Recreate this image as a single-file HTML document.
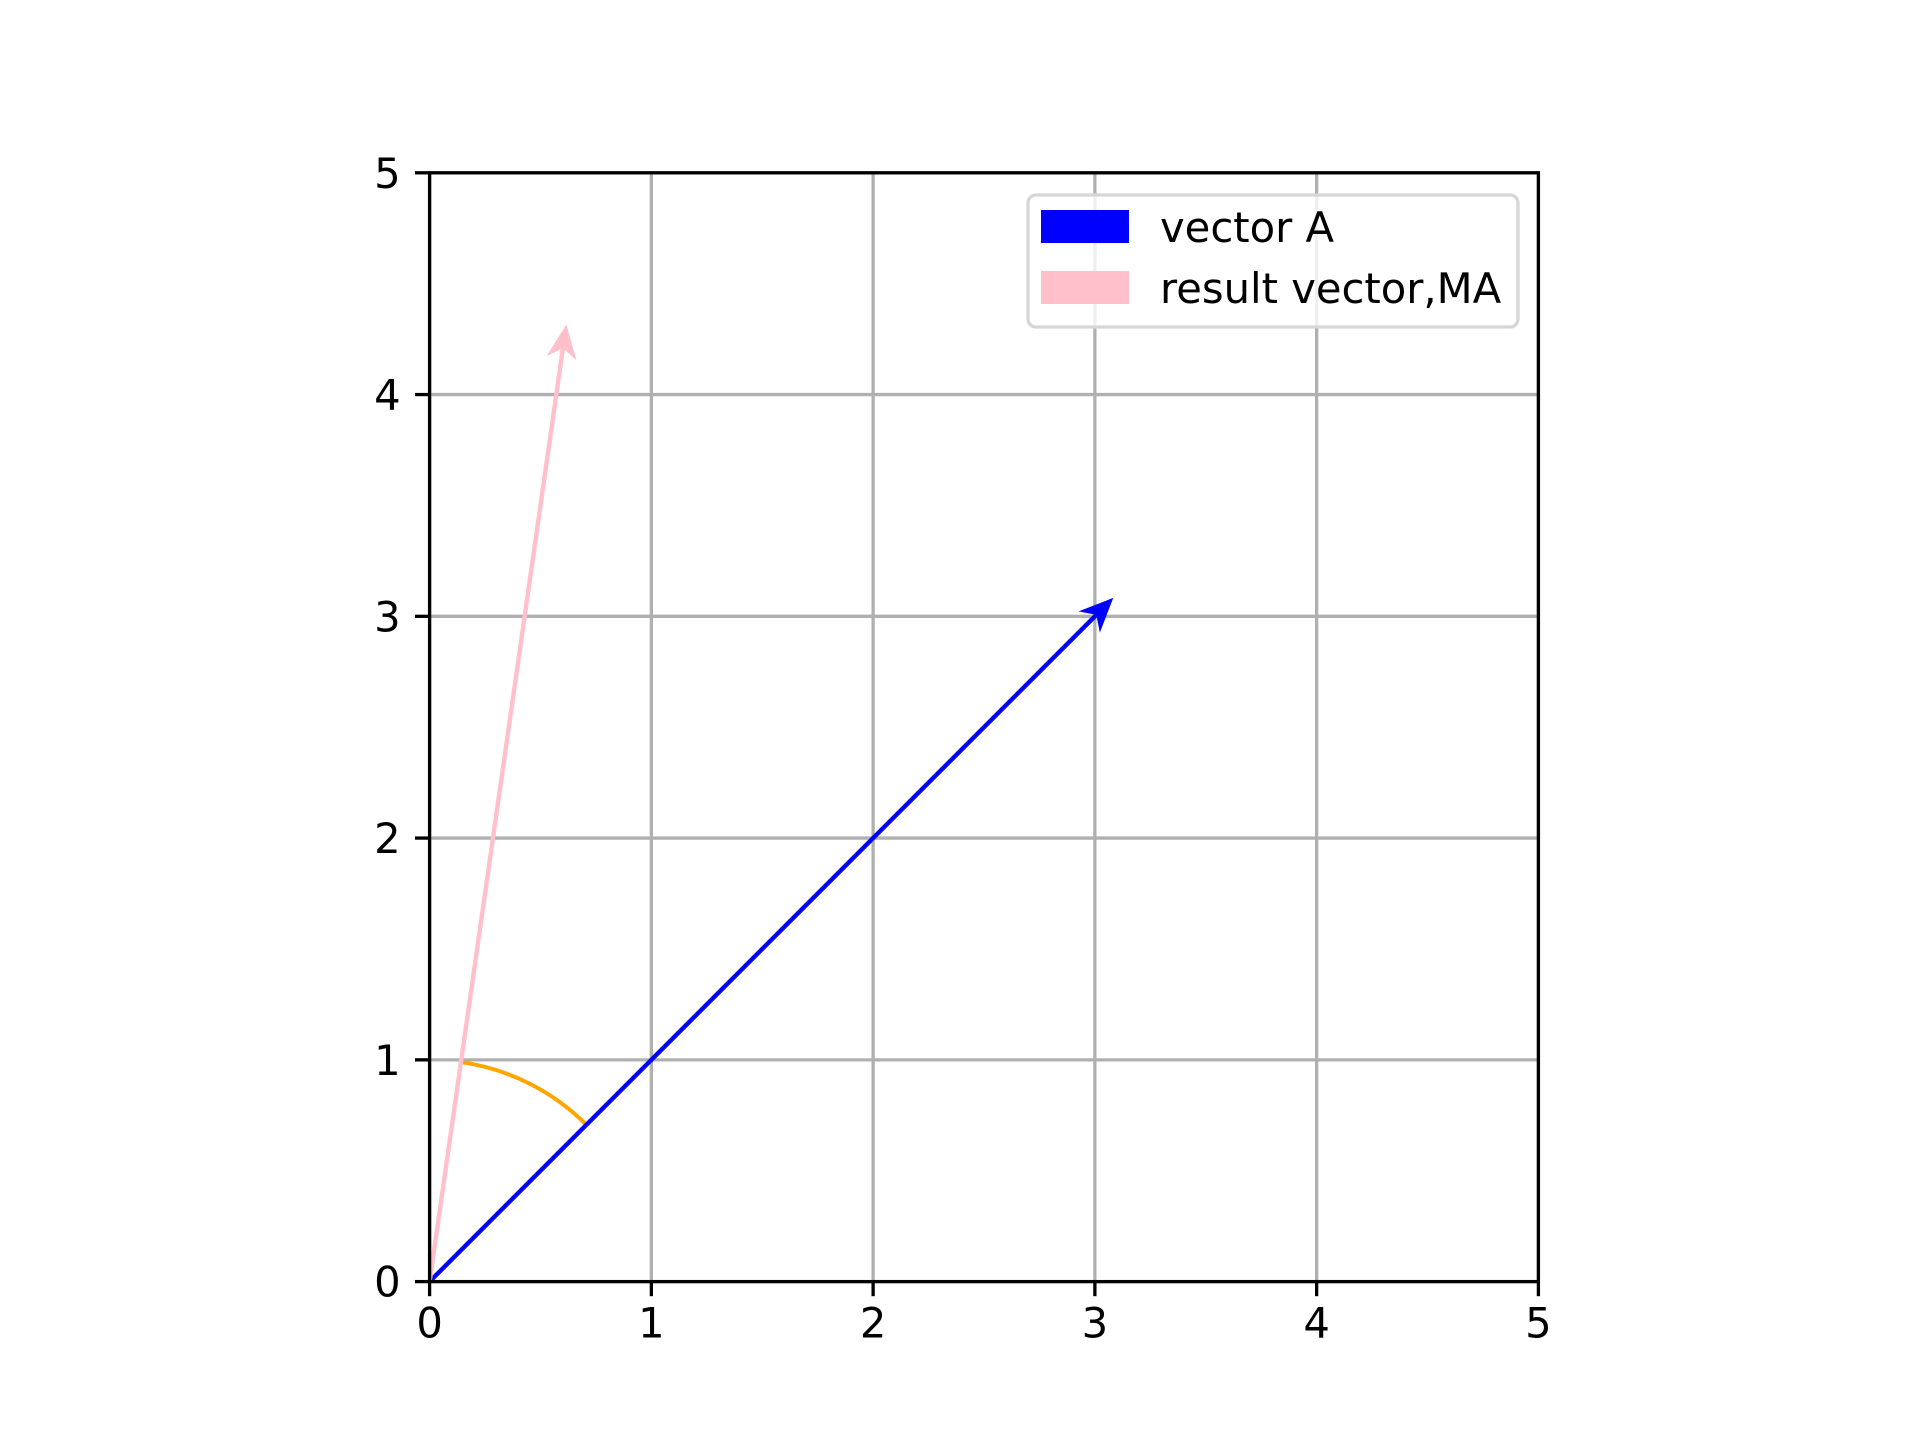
<!DOCTYPE html>
<html><head><meta charset="utf-8"><style>html,body{margin:0;padding:0;background:#fff}svg{display:block}</style></head>
<body>
<svg id="chart" width="1920" height="1440" xmlns="http://www.w3.org/2000/svg" font-family="DejaVu Sans, Liberation Sans, sans-serif">
<rect width="1920" height="1440" fill="#fff"/>
<g id="grid"></g>
<g id="marks"></g>
<g id="axes"></g>
<g>
<rect x="1028" y="195" width="490" height="132" rx="8" fill="#fff" fill-opacity="0.8" stroke="#d6d6d6" stroke-width="3.3"/>
<rect x="1041" y="210" width="88" height="33" fill="#0000ff"/>
<text x="1160" y="242" font-size="41.7" fill="#000">vector A</text>
<rect x="1041" y="271" width="88" height="33" fill="#ffc0cb"/>
<text x="1160" y="303" font-size="41.7" fill="#000">result vector,MA</text>
</g>
</svg>
<script>
const xTicks = [0, 1, 2, 3, 4, 5];
const yTicks = [0, 1, 2, 3, 4, 5];
const vecA = [3, 3];
const vecMA = [0.6, 4.2];
const arcRadius = 1;
const NS = "http://www.w3.org/2000/svg";
const L = 429.6, R = 1538.4, T = 172.8, B = 1281.6;
const sx = v => L + (v - 0) / 5 * (R - L);
const sy = v => B - (v - 0) / 5 * (B - T);
function mk(tag, attrs, parent) {
  const e = document.createElementNS(NS, tag);
  for (const k in attrs) e.setAttribute(k, attrs[k]);
  parent.appendChild(e);
  return e;
}
const grid = document.getElementById('grid');
const axes = document.getElementById('axes');
const marks = document.getElementById('marks');
xTicks.forEach(t => {
  const g = mk('line', {x1: sx(t), x2: sx(t), y1: T, y2: B, stroke: '#b0b0b0', 'stroke-width': 3.3}, grid);
  
  
  const tk = mk('line', {x1: sx(t), x2: sx(t), y1: B, y2: B + 14.6, stroke: '#000', 'stroke-width': 3.3}, axes);
  
  
  const tx = mk('text', {x: sx(t), y: B + 56, 'font-size': 41.7, 'text-anchor': 'middle', fill: '#000'}, axes);
  tx.textContent = t;
  
  
});
yTicks.forEach(t => {
  const g = mk('line', {x1: L, x2: R, y1: sy(t), y2: sy(t), stroke: '#b0b0b0', 'stroke-width': 3.3}, grid);
  
  
  const tk = mk('line', {x1: L - 14.6, x2: L, y1: sy(t), y2: sy(t), stroke: '#000', 'stroke-width': 3.3}, axes);
  
  
  const tx = mk('text', {x: L - 29, y: sy(t) + 15, 'font-size': 41.7, 'text-anchor': 'end', fill: '#000'}, axes);
  tx.textContent = t;
  
  
});
const frame = mk('rect', {x: L, y: T, width: R - L, height: B - T, fill: 'none', stroke: '#000', 'stroke-width': 3.3}, axes);



function arrow(v, color, name) {
  const x0 = sx(0), y0 = sy(0), x1 = sx(v[0]), y1 = sy(v[1]);
  const dx = x1 - x0, dy = y1 - y0, len = Math.hypot(dx, dy);
  const ux = dx / len, uy = dy / len, px = -uy, py = ux;
  const tipx = x1 + ux * 26, tipy = y1 + uy * 26;
  const bx = tipx - ux * 34, by = tipy - uy * 34;
  const nx = tipx - ux * 24, ny = tipy - uy * 24;
  const sh = mk('line', {x1: x0, y1: y0, x2: nx, y2: ny, stroke: color, 'stroke-width': 4.4}, marks);
  
  
  const pts = [[tipx, tipy], [bx + px * 15, by + py * 15], [nx, ny], [bx - px * 15, by - py * 15]];
  const hd = mk('polygon', {points: pts.map(p => p.join(',')).join(' '), fill: color}, marks);
  
  
}
const a1 = Math.atan2(vecA[1], vecA[0]), a2 = Math.atan2(vecMA[1], vecMA[0]);
const rpx = arcRadius / 5 * (R - L);
const arc = mk('path', {d: `M ${sx(arcRadius * Math.cos(a1))} ${sy(arcRadius * Math.sin(a1))} A ${rpx} ${rpx} 0 0 0 ${sx(arcRadius * Math.cos(a2))} ${sy(arcRadius * Math.sin(a2))}`, fill: 'none', stroke: '#ffa500', 'stroke-width': 4}, marks);


arrow(vecA, '#0000ff', 'vector-a');
arrow(vecMA, '#ffc0cb', 'result-vector');
</script>
</body></html>
